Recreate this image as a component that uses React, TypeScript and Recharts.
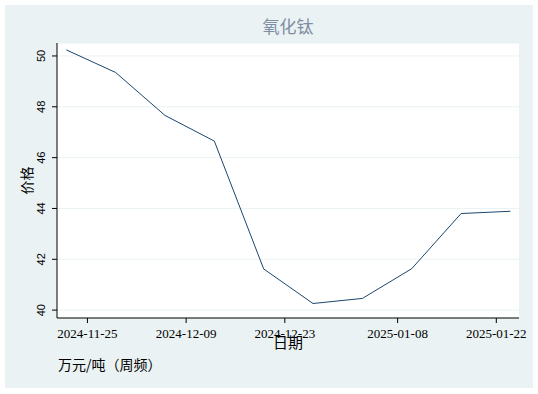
import React from "react";
import {
  LineChart,
  Line,
  XAxis,
  YAxis,
  CartesianGrid,
} from "recharts";

// weekly price observations
const dates = [
  "2024-11-22",
  "2024-11-29",
  "2024-12-06",
  "2024-12-13",
  "2024-12-20",
  "2024-12-27",
  "2025-01-03",
  "2025-01-10",
  "2025-01-17",
  "2025-01-24",
];
const prices = [50.24, 49.35, 47.66, 46.65, 41.62, 40.26, 40.46, 41.63, 43.8, 43.89];

const xTickDates = ["2024-11-25", "2024-12-09", "2024-12-23", "2025-01-08", "2025-01-22"];
const yTicks = [40, 42, 44, 46, 48, 50];

const BG = "#eaf2f3";
const LINE = "#1a476f";
const CJK = '"Noto Sans CJK SC", "Noto Sans", sans-serif';

const ORIGIN = Date.UTC(2024, 10, 25);
const dayOf = (s: string) => {
  const [y, m, d] = s.split("-").map(Number);
  return (Date.UTC(y, m - 1, d) - ORIGIN) / 86400000;
};

const data = dates.map((d, i) => ({ day: dayOf(d), price: prices[i] }));
const xTicks = xTickDates.map(dayOf);
const labelOf = new Map(xTickDates.map((d) => [dayOf(d), d]));

const YTick = ({ x, y, payload }: any) => (
  <text
    x={x - 5}
    y={y}
    transform={`rotate(-90 ${x - 5} ${y})`}
    textAnchor="middle"
    fontSize={11}
    fontFamily='"Liberation Sans Narrow", "Liberation Sans", sans-serif'
    fill="#000"
  >
    {payload.value}
  </text>
);

export default function App() {
  return (
    <div
      style={{
        position: "absolute",
        left: 0,
        top: 0,
        width: 538,
        height: 394,
        background: "#fff",
      }}
    >
      <div
        style={{
          position: "absolute",
          left: 5,
          top: 5,
          width: 528,
          height: 383,
          background: BG,
        }}
      />
      <div
        style={{
          position: "absolute",
          left: 0,
          top: 16,
          width: 576,
          textAlign: "center",
          fontFamily: CJK,
          fontSize: 17,
          lineHeight: "20px",
          color: "#7f8ea3",
        }}
      >
        氧化钛
      </div>
      <div
        style={{
          position: "absolute",
          left: 58,
          top: 355,
          fontFamily: CJK,
          fontSize: 14,
          lineHeight: "18px",
          color: "#000",
        }}
      >
        万元/吨（周频）
      </div>
      <div style={{ position: "absolute", left: 0, top: 0 }}>
        <LineChart
          width={538}
          height={394}
          data={data}
          margin={{ top: 43, right: 19, bottom: 0, left: 0 }}
        >
          <CartesianGrid vertical={false} stroke={BG} fill="#fff" />
          <XAxis
            dataKey="day"
            type="number"
            domain={[-4.32, 61.22]}
            ticks={xTicks}
            tickFormatter={(v: number) => labelOf.get(v) ?? ""}
            height={76}
            stroke="#000"
            tickSize={5}
            tickMargin={6}
            tick={{ fill: "#000", fontSize: 13, fontFamily: '"Liberation Serif", serif' }}
            label={{
              value: "日期",
              position: "insideTop",
              offset: 19,
              fill: "#000",
              fontSize: 15,
              fontFamily: CJK,
            }}
          />
          <YAxis
            type="number"
            domain={[39.69, 50.51]}
            ticks={yTicks}
            width={57}
            stroke="#000"
            tickSize={5}
            tickMargin={2}
            tick={<YTick />}
            label={{
              content: ({ viewBox }: any) => {
                const cx = viewBox.x + 25.5;
                const cy = viewBox.y + viewBox.height / 2;
                return (
                  <text
                    x={cx}
                    y={cy}
                    transform={`rotate(-90 ${cx} ${cy})`}
                    textAnchor="middle"
                    dominantBaseline="central"
                    fontSize={14}
                    fontFamily={CJK}
                    fill="#000"
                  >
                    价格
                  </text>
                );
              },
            }}
          />
          <Line
            type="linear"
            dataKey="price"
            stroke={LINE}
            strokeWidth={1}
            dot={false}
            isAnimationActive={false}
          />
        </LineChart>
      </div>
    </div>
  );
}
